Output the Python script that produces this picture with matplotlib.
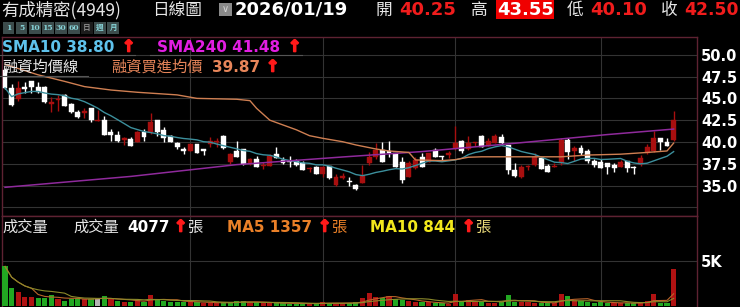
import numpy as np
import pandas as pd
import matplotlib
matplotlib.use("Agg")
import matplotlib.pyplot as plt
import matplotlib.patheffects as pe
from matplotlib.patches import Rectangle

# daily candles, oldest first
opens = [48.3, 46.2, 44.9, 46.27, 47.0, 46.35, 46.35, 44.3, 44.8, 45.4,
         44.32, 43.47, 43.3, 43.86, 42.4, 42.5, 41.1, 40.8, 40.23, 40.34,
         40.03, 41.1, 41.1, 42.5, 41.4, 40.65, 39.92, 39.16, 39.0, 39.74,
         39.16, 39.74, 39.97, 40.72, 37.67, 38.97, 39.2, 37.48, 38.05, 37.25,
         37.28, 38.59, 37.94, 37.86, 37.86, 37.56, 36.87, 37.1, 36.33, 37.25,
         35.07, 35.85, 35.56, 35.07, 35.33, 37.63, 38.31, 39.08, 38.97, 38.7,
         37.74, 36.02, 36.98, 38.24, 37.74, 39.08, 38.39, 38.5, 39.27, 40.15,
         39.16, 39.92, 40.69, 39.54, 39.92, 40.6, 39.66, 36.8, 36.02, 37.13,
         37.36, 38.2, 37.28, 37.13, 37.56, 40.23, 39.0, 39.35, 38.97, 37.82,
         37.67, 37.56, 37.36, 37.17, 37.82, 37.1, 37.44, 38.7, 38.97, 40.5,
         39.97, 40.25]
highs = [48.5, 46.7, 47.0, 46.85, 47.05, 46.85, 46.4, 45.2, 45.4, 45.5,
         44.5, 43.7, 43.9, 43.9, 43.7, 43.0, 41.5, 41.3, 40.6, 40.6,
         41.3, 41.5, 43.3, 42.5, 41.7, 40.8, 40.0, 39.46, 39.8, 39.74,
         39.16, 40.6, 40.5, 40.8, 38.7, 40.15, 39.2, 38.2, 38.4, 37.74,
         38.6, 39.4, 38.3, 38.4, 38.0, 37.8, 37.1, 37.2, 37.2, 37.3,
         36.3, 36.4, 36.0, 35.2, 37.36, 38.8, 39.85, 40.03, 40.1, 38.75,
         38.3, 37.8, 38.3, 38.77, 38.75, 39.3, 38.39, 38.95, 41.83, 40.2,
         40.7, 40.03, 40.8, 40.4, 40.9, 40.9, 39.7, 37.56, 37.4, 37.4,
         38.7, 38.2, 37.5, 37.6, 40.42, 40.4, 39.58, 39.6, 39.2, 38.05,
         38.0, 37.56, 37.6, 37.9, 37.82, 37.3, 38.5, 39.8, 41.26, 40.5,
         40.4, 43.55]
lows = [46.1, 44.1, 44.7, 45.6, 45.6, 45.6, 44.5, 43.4, 43.6, 44.1,
        43.35, 42.7, 42.8, 42.3, 42.4, 40.8, 40.15, 40.0, 39.65, 39.5,
        40.0, 40.1, 40.9, 40.7, 40.0, 40.0, 39.2, 38.6, 39.0, 38.7,
        38.5, 39.4, 39.4, 39.2, 37.5, 38.24, 37.4, 37.4, 37.1, 36.87,
        37.28, 38.13, 37.5, 37.1, 37.3, 36.79, 36.5, 36.33, 36.0, 35.8,
        35.0, 35.8, 34.95, 34.5, 35.33, 37.4, 38.05, 37.67, 38.31, 37.1,
        35.33, 36.0, 36.9, 37.1, 37.7, 38.3, 37.8, 38.2, 39.08, 38.77,
        39.08, 39.5, 39.39, 39.5, 39.9, 39.7, 36.3, 36.0, 35.9, 36.8,
        37.3, 36.9, 36.5, 37.1, 37.36, 38.0, 37.82, 38.5, 37.6, 37.1,
        36.98, 36.3, 36.6, 37.1, 36.5, 36.3, 37.3, 38.6, 38.9, 39.1,
        39.5, 40.10]
closes = [46.2, 44.2, 46.15, 46.1, 46.35, 45.77, 44.55, 44.6, 44.93, 44.16,
          43.4, 42.83, 43.55, 42.5, 42.5, 40.8, 40.8, 40.15, 40.42, 39.58,
          41.1, 40.6, 42.33, 41.1, 40.42, 40.03, 39.39, 39.0, 39.74, 38.7,
          39.0, 40.1, 40.1, 39.27, 38.62, 38.24, 37.48, 38.05, 37.1, 37.36,
          38.43, 38.13, 37.56, 37.74, 37.36, 36.79, 36.98, 36.33, 37.1, 35.9,
          36.02, 36.1, 35.45, 34.6, 36.14, 38.31, 39.08, 37.74, 38.77, 37.17,
          35.64, 37.63, 37.94, 37.17, 38.7, 38.31, 38.24, 38.77, 39.85, 39.0,
          39.92, 40.03, 39.39, 40.15, 40.69, 39.85, 36.8, 36.05, 37.17, 37.25,
          38.31, 36.9, 36.52, 37.28, 40.23, 38.81, 39.27, 38.7, 37.82, 37.36,
          36.98, 37.17, 36.98, 37.74, 36.98, 36.98, 38.2, 39.46, 40.5, 40.03,
          39.58, 42.50]

# volume (張) and bar colour code: r up, g down, n flat
volumes = [4400, 2000, 1550, 960, 960, 930, 930, 1220, 780, 560,
           780, 930, 780, 780, 740, 1070, 810, 560, 480, 480,
           670, 480, 1220, 700, 590, 480, 480, 480, 480, 400,
           330, 330, 330, 400, 400, 515, 590, 400, 400, 300,
           330, 300, 300, 260, 260, 260, 300, 260, 400, 330,
           330, 300, 330, 400, 845, 1400, 1030, 920, 1070, 770,
           700, 515, 400, 400, 400, 300, 300, 220, 1290, 480,
           700, 590, 480, 370, 370, 480, 1180, 480, 480, 400,
           370, 330, 330, 330, 1290, 1070, 700, 515, 480, 330,
           480, 330, 300, 300, 350, 300, 400, 600, 1360, 380,
           380, 4077]
vol_dirs = ("ggrrrgggrg" "ggrgngrgrg" "rgrgggggrg" "rrrggggrgr" "rgggggrgrg"
            "rrggrrrgrg" "grrgrggrrg" "rrgrrgggrr" "rggrrgrggg" "ggrrggrrrg" "gr")

# SMA240 at a few days
sma240_idx = [0, 19, 35, 51, 63, 77, 91, 101]
sma240_val = [34.8, 36.05, 37.4, 38.28, 38.9, 39.85, 40.85, 41.48]

# 融資買進均價
margin_idx = [0, 5, 9, 12, 16, 20, 26, 29, 35, 37, 38, 40, 42, 44, 46, 48,
              51, 53, 56, 58, 61, 62, 66, 68, 70, 72, 84, 88, 93, 97, 100, 101]
margin_val = [48.9, 47.7, 46.95, 46.35, 45.96, 45.7, 45.4, 45.0, 44.9, 44.74,
              43.86, 42.5, 41.95, 41.4, 40.72, 40.42, 40.03, 39.66, 39.2, 38.97,
              38.8, 37.94, 37.86, 37.97, 38.25, 38.3, 38.3, 38.5, 38.6, 38.8,
              38.97, 39.87]

month_idx = [28, 48, 68, 90]
price_ticks = [32.5, 35.0, 37.5, 40.0, 42.5, 45.0, 47.5, 50.0]
price_labels = ["", "35.0", "37.5", "40.0", "42.5", "45.0", "47.5", "50.0"]

CJK = ["Noto Sans CJK TC", "DejaVu Sans"]
RED = "#a80f0f"
FRAME = "#5e2232"
GRID = "#333333"
W, H = 740, 307

fig = plt.figure(figsize=(W / 100, H / 100), dpi=100, facecolor="black")


def put(x, y, s, **kw):
    kw.setdefault("color", "white")
    return fig.text(x / W, 1 - y / H, s, va="center", ha="left", **kw)


def arrow(x, y):
    # thick red up arrow used after every live value
    put(x, y, "↑", fontsize=11.5, fontweight="bold", color="#ff1a1a",
        path_effects=[pe.withStroke(linewidth=1.2, foreground="#ff1a1a")])


def box(x, y, w, h, color):
    fig.add_artist(Rectangle((x / W, 1 - (y + h) / H), w / W, h / H,
                             transform=fig.transFigure, color=color, lw=0))


n = len(closes)
xs = np.arange(n)
o = np.array(opens)
hi = np.array(highs)
lo = np.array(lows)
c = np.array(closes)

ax = fig.add_axes([1.5 / W, 1 - 216 / H, 695.5 / W, 179 / H], facecolor="black")
vax = fig.add_axes([1.5 / W, 1 / H, 695.5 / W, 90 / H], facecolor="black")

# candles
cols = np.where(c >= o, RED, "white")
ax.vlines(xs, lo, hi, colors=cols, lw=1, zorder=3)
ax.bar(xs, np.maximum(np.abs(c - o), 0.11), bottom=np.minimum(o, c), width=0.74,
       color=cols, edgecolor=cols, lw=0.3, zorder=3)

sma10 = pd.Series(closes).rolling(10, min_periods=1).mean()
ax.plot(xs, sma10, color="#3c8f9c", lw=1, zorder=4)
ax.plot(sma240_idx, sma240_val, color="#8f2a9c", lw=1.1, zorder=4)
ax.plot(margin_idx, margin_val, color="#cf7f52", lw=1, zorder=4)

ax.set_xlim(-0.53, 104.53)
ax.set_ylim(31.51, 52.04)
ax.yaxis.tick_right()
ax.set_yticks(price_ticks, labels=price_labels, fontweight="bold")
ax.set_xticks(month_idx, labels=[""] * len(month_idx))
ax.tick_params(length=0, pad=3, labelcolor="white", labelsize=10.5)
ax.grid(True, color=GRID, lw=0.8, zorder=0)

# volume
vcol = {"r": "#b01212", "g": "#22a822", "n": "#b4b4b4"}
vax.bar(xs, volumes, width=0.78, color=[vcol[d] for d in vol_dirs], zorder=3)
vs = pd.Series(volumes)
vax.plot(xs, vs.rolling(5, min_periods=1).mean(), color="#b8642a", lw=0.8, zorder=4)
vax.plot(xs, vs.rolling(10, min_periods=1).mean(), color="#8c8a2a", lw=0.8, zorder=4)
vax.set_xlim(-0.53, 104.53)
vax.set_ylim(0, 10000)
vax.yaxis.tick_right()
vax.set_yticks([5000], labels=["5K"], fontweight="bold")
vax.set_xticks(month_idx, labels=[""] * len(month_idx))
vax.tick_params(length=0, pad=3, labelcolor="white", labelsize=10.5)
vax.grid(True, color=GRID, lw=0.8, zorder=0)

for a in (ax, vax):
    for s in a.spines.values():
        s.set_color(FRAME)
        s.set_linewidth(1)
vax.spines["bottom"].set_visible(False)

# header
put(1, 10, "有成精密(4949)", family=CJK, fontsize=12.5, color="#e6e6e6")
put(152, 10, "日線圖", family=CJK, fontsize=12, color="#e6e6e6")
box(219, 3.5, 13, 12, "#8a8a8a")
put(221.5, 9, "∨", fontsize=7, color="#d8d8d8")
put(235, 10, "2026/01/19", fontsize=13, fontweight="bold")
put(375, 10, "開", family=CJK, fontsize=12, color="#e6e6e6")
put(399, 10, "40.25", fontsize=13, fontweight="bold", color="#f01c1c")
put(471, 10, "高", family=CJK, fontsize=12, color="#e6e6e6")
box(496, 0, 58, 19, "#f00000")
put(497, 10, "43.55", fontsize=13, fontweight="bold")
put(567, 10, "低", family=CJK, fontsize=12, color="#e6e6e6")
put(590, 10, "40.10", fontsize=13, fontweight="bold", color="#f01c1c")
put(661, 10, "收", family=CJK, fontsize=12, color="#e6e6e6")
put(684, 10, "42.50", fontsize=12.3, fontweight="bold", color="#f01c1c")

# period buttons
btn_labels = ["1", "5", "10", "15", "30", "60", "日", "週", "月"]
for i, lab in enumerate(btn_labels):
    bx = 2.7 + 13.1 * i
    dark = lab == "日"
    box(bx, 22.5, 11.6, 11, "#1c1c1c" if dark else "#3c4c4c")
    fig.text((bx + 5.8) / W, 1 - 28 / H, lab, ha="center", va="center",
             family=["DejaVu Serif", "Noto Sans CJK TC"], fontsize=5.5, fontweight="bold",
             color="#8a8a8a" if dark else "#86d2d6")

# price legends
put(2, 47, "SMA10 38.80", fontsize=11, fontweight="bold", color="#5ec2ec")
arrow(122, 47)
put(157, 47, "SMA240 41.48", fontsize=11, fontweight="bold", color="#e21ee2")
arrow(288, 47)
fig.add_artist(plt.Line2D([0, 135 / W], [1 - 55 / H] * 2, color="#555555", lw=0.8))
fig.add_artist(plt.Line2D([150 / W, 302 / W], [1 - 55 / H] * 2, color="#555555", lw=0.8))
put(2, 67, "融資均價線", family=CJK, fontsize=11, color="#e6e6e6")
fig.add_artist(plt.Line2D([0, 88 / W], [1 - 76 / H] * 2, color="#555555", lw=0.8))
put(111, 67, "融資買進均價", family=CJK, fontsize=11, color="#e8865a")
put(212, 67, "39.87", fontsize=11, fontweight="bold", color="#e8865a")
arrow(266, 67)

# volume legends
put(2, 227, "成交量", family=CJK, fontsize=11, color="#e6e6e6")
put(73, 227, "成交量", family=CJK, fontsize=11, color="#e6e6e6")
put(127, 227, "4077", fontsize=11, fontweight="bold")
arrow(174, 227)
put(187, 227, "張", family=CJK, fontsize=11, color="#e6e6e6")
put(227, 227, "MA5 1357", fontsize=11, fontweight="bold", color="#ea8028")
arrow(318, 227)
put(331, 227, "張", family=CJK, fontsize=11, color="#ea8028")
put(370, 227, "MA10 844", fontsize=11, fontweight="bold", color="#f2e81c")
arrow(462, 227)
put(475, 227, "張", family=CJK, fontsize=11, color="#e8d878")

fig.savefig("out.png", dpi=100, facecolor="black")
